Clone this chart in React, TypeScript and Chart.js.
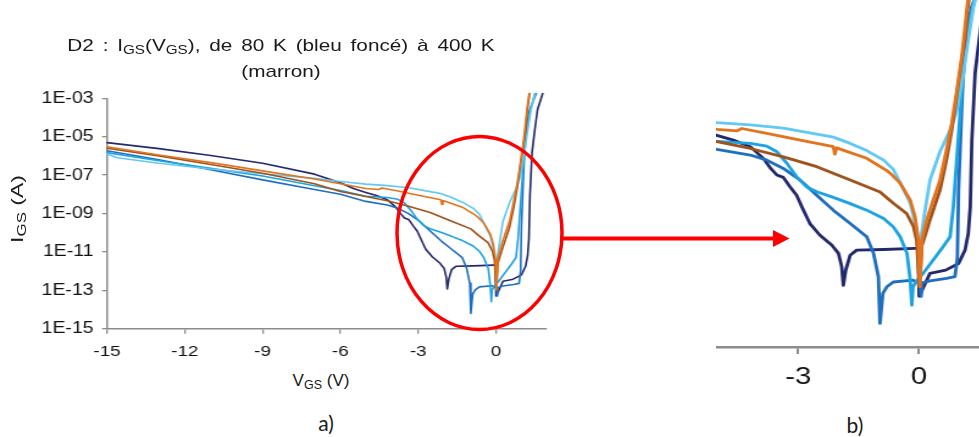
import React, { useEffect, useRef } from 'react';
import { Chart, registerables } from 'chart.js';

Chart.register(...registerables);

// ---------------- data (V_GS in volts, log10 of I_GS in amperes) ----------------
const seriesLabels = ['80 K', 'T2', 'T3', 'T4', 'T5', '400 K'];
const seriesColors = ['#24296c', '#1f6fbf', '#1ba3e3', '#62c9f2', '#e3731c', '#a0521c'];
const drawOrder = [5, 4, 3, 2, 0, 1];

const vgs80K = [-15, -13, -11, -9, -7, -6, -5.5, -5.02, -4.61, -4.19, -3.86, -3.7, -3.53, -3.37, -3.2, -3.04, -2.87, -2.71, -2.46, -2.17, -2, -1.92, -1.88, -1.82, -1.71, -1.55, -0.88, -0.1, -0.02, 0, 0.04, 0.27, 0.66, 0.98, 1.14, 1.22, 1.27, 1.31, 1.39, 1.49, 1.6, 1.8];
const logIgs80K = [-5.31, -5.62, -5.98, -6.38, -6.95, -7.4, -7.7, -7.9, -8.06, -8.28, -8.68, -8.98, -9.23, -9.31, -9.63, -9.91, -10.41, -10.86, -11.25, -11.58, -11.86, -12.31, -12.93, -12.42, -11.92, -11.75, -11.73, -11.69, -11.69, -13.3, -13.2, -12.53, -12.42, -12.2, -11.75, -11.2, -10.3, -8.05, -5.82, -4.7, -3.6, -2.75];

const vgsT2 = [-15, -13, -11, -9, -7, -6, -5.02, -4.19, -3.78, -3.37, -2.95, -2.54, -2.13, -1.71, -1.3, -1.13, -1.01, -0.97, -0.9, -0.8, -0.64, -0.15, 0.02, 0.05, 0.08, 0.27, 0.68, 0.89, 0.95, 0.98, 1.06, 1.14, 1.3, 1.55];
const logIgsT2 = [-5.73, -6.2, -6.72, -7.25, -7.75, -8.0, -8.37, -8.56, -8.73, -9.01, -9.4, -9.91, -10.41, -10.86, -11.3, -11.86, -12.64, -14.21, -13.2, -12.98, -12.82, -12.76, -12.87, -13.3, -12.85, -12.78, -12.7, -12.64, -12.0, -9.7, -6.94, -4.7, -3.6, -2.75];

const vgsT3 = [-15, -13, -11, -9, -7, -6, -5.02, -4.19, -3.78, -3.53, -3.28, -3.04, -2.79, -2.54, -2.13, -1.71, -1.3, -0.88, -0.64, -0.47, -0.3, -0.22, -0.18, -0.15, -0.07, 0.1, 0.35, 0.6, 0.77, 0.85, 0.94, 1.06, 1.18, 1.33, 1.5];
const logIgsT3 = [-5.83, -6.25, -6.65, -7.05, -7.55, -7.8, -8.1, -8.17, -8.26, -8.45, -8.84, -9.29, -9.63, -9.79, -9.98, -10.19, -10.41, -10.69, -10.97, -11.3, -11.86, -12.76, -13.6, -12.98, -12.8, -12.53, -12.08, -11.63, -11.3, -10.29, -8.6, -6.38, -4.7, -3.6, -2.75];

const vgsT4 = [-15, -14.6, -13, -11, -9, -7, -6, -5.02, -4.19, -3.37, -2.54, -2.13, -1.71, -1.3, -0.88, -0.64, -0.47, -0.22, -0.06, 0, 0.05, 0.15, 0.27, 0.52, 0.77, 0.94, 1.1, 1.22, 1.35, 1.5];
const logIgsT4 = [-5.9, -6.1, -6.38, -6.68, -6.93, -7.17, -7.33, -7.47, -7.55, -7.66, -7.86, -7.96, -8.17, -8.41, -8.73, -9.04, -9.5, -10.17, -11.07, -11.97, -11.3, -10.4, -9.4, -8.44, -7.72, -7.05, -5.82, -4.7, -3.6, -2.75];

const vgsT5 = [-15, -13, -11, -9, -7, -6, -5.02, -4.52, -4.4, -3.78, -2.95, -2.13, -2.09, -2.05, -1.3, -0.8, -0.72, -0.47, -0.22, -0.1, -0.02, 0.02, 0.07, 0.19, 0.35, 0.52, 0.68, 0.81, 0.94, 1.06, 1.12, 1.2, 1.28];
const logIgsT5 = [-5.52, -5.95, -6.35, -6.78, -7.2, -7.45, -7.7, -7.75, -7.67, -7.83, -8.06, -8.28, -8.53, -8.32, -8.67, -9.08, -9.17, -9.5, -10.07, -10.63, -11.41, -12.98, -11.41, -10.74, -10.07, -9.4, -8.39, -7.5, -6.38, -5.26, -4.5, -3.5, -2.75];

const vgs400K = [-15, -13, -11, -9, -7, -6, -5.02, -4.19, -3.37, -2.54, -1.71, -0.97, -0.64, -0.31, -0.14, -0.06, -0.01, 0.01, 0.07, 0.27, 0.52, 0.68, 0.81, 0.94, 1.06, 1.14, 1.2, 1.3];
const logIgs400K = [-5.6, -6.0, -6.45, -6.9, -7.45, -7.85, -8.11, -8.34, -8.62, -8.95, -9.4, -9.8, -10.18, -10.52, -10.96, -11.41, -12.53, -12.98, -11.6, -10.74, -9.73, -8.72, -7.72, -6.5, -5.37, -4.7, -3.7, -2.75];

const seriesV = [vgs80K, vgsT2, vgsT3, vgsT4, vgsT5, vgs400K];
const seriesLogI = [logIgs80K, logIgsT2, logIgsT3, logIgsT4, logIgsT5, logIgs400K];

const xTickValues = [-15, -12, -9, -6, -3, 0];
const xTickLabels = ['-15', '-12', '-9', '-6', '-3', '0'];
const yTickValues = [1e-15, 1e-13, 1e-11, 1e-9, 1e-7, 1e-5, 1e-3];
const yTickLabels = ['1E-15', '1E-13', '1E-11', '1E-09', '1E-07', '1E-05', '1E-03'];
const zoomTickValues = [-3, 0];
const zoomTickLabels = ['-3', '0'];

const xMin = -15;
const xMax = 1.95;
const yMin = 1e-15;
const yMax = 1e-3;
const zoomXMin = -5.04;
const zoomXMax = 1.5;
const zoomYMax = 4.37e-4;

// ---------------- styling / layout ----------------
const SX = 1.22;
const FONT = "'Liberation Sans', Arial, Helvetica, sans-serif";
const AXIS = '#8c8c8c';

function makeDatasets(width: number, clip: any) {
  return seriesV.map((v, k) => ({
    label: seriesLabels[k],
    data: v.map((x, i) => ({ x, y: Math.pow(10, seriesLogI[k][i]) })),
    showLine: true,
    borderColor: seriesColors[k],
    backgroundColor: seriesColors[k],
    borderWidth: width,
    pointRadius: 0,
    pointHoverRadius: 0,
    fill: false,
    tension: 0,
    order: drawOrder[k],
    clip,
    borderJoinStyle: 'round',
    borderCapStyle: 'round',
  }));
}

const LW = 459;
const LH = 365;
const leftConfig = (): any => ({
  type: 'scatter',
  data: { datasets: makeDatasets(1.6, { left: 1, right: 1, top: 6, bottom: 1 }) },
  options: {
    responsive: false,
    animation: false,
    events: [],
    layout: { padding: { top: 98.3, right: 11, left: 0, bottom: 0 } },
    plugins: { legend: { display: false }, tooltip: { enabled: false }, title: { display: false } },
    scales: {
      x: {
        type: 'linear',
        min: xMin,
        max: xMax,
        afterBuildTicks: (s: any) => { s.ticks = xTickValues.map((value) => ({ value })); },
        afterFit: (s: any) => { s.height = LH - 328.7; },
        grid: { drawOnChartArea: false, drawTicks: true, tickLength: 5, color: AXIS, lineWidth: 1.3 },
        border: { display: true, color: AXIS, width: 1.5 },
        ticks: {
          callback: (_v: any, i: number) => xTickLabels[i],
          padding: 9,
          maxRotation: 0,
          autoSkip: false,
          color: '#111',
          font: { family: FONT, size: 15.5 },
        },
      },
      y: {
        type: 'logarithmic',
        min: yMin,
        max: yMax,
        afterBuildTicks: (s: any) => { s.ticks = yTickValues.map((value) => ({ value })); },
        afterFit: (s: any) => { s.width = 107 / SX; },
        grid: { drawOnChartArea: false, drawTicks: true, tickLength: 4, color: AXIS, lineWidth: 1.3 },
        border: { display: true, color: AXIS, width: 1.5 },
        ticks: {
          callback: (_v: any, i: number) => yTickLabels[i],
          padding: 7,
          autoSkip: false,
          color: '#111',
          font: { family: FONT, size: 16 },
        },
      },
    },
  },
});

const RW = 216;
const RH = 410;
const rightConfig = (): any => ({
  type: 'scatter',
  data: { datasets: makeDatasets(2.8, 2) },
  options: {
    responsive: false,
    animation: false,
    events: [],
    layout: { padding: 0 },
    plugins: { legend: { display: false }, tooltip: { enabled: false }, title: { display: false } },
    scales: {
      x: {
        type: 'linear',
        min: zoomXMin,
        max: zoomXMax,
        afterBuildTicks: (s: any) => { s.ticks = zoomTickValues.map((value) => ({ value })); },
        afterFit: (s: any) => { s.height = RH - 347; },
        grid: { drawOnChartArea: false, drawTicks: true, tickLength: 7, color: AXIS, lineWidth: 2 },
        border: { display: true, color: AXIS, width: 2.4 },
        ticks: {
          callback: (_v: any, i: number) => zoomTickLabels[i],
          padding: 9,
          maxRotation: 0,
          autoSkip: false,
          color: '#111',
          font: { family: FONT, size: 24 },
        },
      },
      y: { type: 'logarithmic', display: false, min: yMin, max: zoomYMax },
    },
  },
});

function ChartBox({ left, top, width, height, make }: { left: number; top: number; width: number; height: number; make: () => any }) {
  const ref = useRef<HTMLCanvasElement>(null);
  useEffect(() => {
    const chart = new Chart(ref.current as HTMLCanvasElement, make());
    return () => chart.destroy();
  }, []);
  return (
    <div style={{ position: 'absolute', left, top, width, height, transform: `scaleX(${SX})`, transformOrigin: '0 0' }}>
      <canvas ref={ref} width={width} height={height} style={{ display: 'block' }} />
    </div>
  );
}

function Sub({ children, size }: { children: React.ReactNode; size: number }) {
  return <span style={{ fontSize: size, position: 'relative', top: 3, lineHeight: 0, wordSpacing: 0 }}>{children}</span>;
}

export default function App() {
  const text: React.CSSProperties = { position: 'absolute', fontFamily: FONT, color: '#1a1a1a', whiteSpace: 'nowrap' };
  return (
    <div style={{ position: 'absolute', left: 0, top: 0, width: 979, height: 437, overflow: 'hidden', background: '#fff' }}>
      <ChartBox left={0} top={0} width={LW} height={LH} make={leftConfig} />
      <ChartBox left={716} top={0} width={RW} height={RH} make={rightConfig} />

      <div style={{ ...text, left: 0, top: 33, width: 562 / SX, transform: `scaleX(${SX})`, transformOrigin: '0 0', textAlign: 'center', fontSize: 17, lineHeight: '26px', wordSpacing: '2.5px' }}>
        <div>D2 : I<Sub size={12.5}>GS</Sub>(V<Sub size={12.5}>GS</Sub>), de 80 K (bleu foncé) à 400 K</div>
        <div>(marron)</div>
      </div>

      <div style={{ ...text, left: 0, top: 371, width: 642, textAlign: 'center', fontSize: 17, lineHeight: '20px' }}>
        V<Sub size={12.5}>GS</Sub> (V)
      </div>

      <div style={{ ...text, left: -32, top: 199, width: 100, height: 20, textAlign: 'center', fontSize: 17, lineHeight: '20px', transform: 'rotate(-90deg) scaleX(1.35)', transformOrigin: '50% 50%' }}>
        I<Sub size={12.5}>GS</Sub> (A)
      </div>

      <div style={{ ...text, left: 276, top: 411, width: 100, textAlign: 'center', fontFamily: 'Lato, sans-serif', fontSize: 21, lineHeight: '24px' }}>a)</div>
      <div style={{ ...text, left: 805, top: 413, width: 100, textAlign: 'center', fontFamily: 'Lato, sans-serif', fontSize: 21, lineHeight: '24px' }}>b)</div>

      <svg width={979} height={437} style={{ position: 'absolute', left: 0, top: 0, pointerEvents: 'none' }}>
        <ellipse cx={479.5} cy={233} rx={82.5} ry={96.5} fill="none" stroke="#ff0000" strokeWidth={3.5} />
        <line x1={563} y1={238.5} x2={776} y2={238.5} stroke="#ff0000" strokeWidth={4} />
        <polygon points="773,230 789.5,238.5 773,247" fill="#ff0000" />
      </svg>
    </div>
  );
}
